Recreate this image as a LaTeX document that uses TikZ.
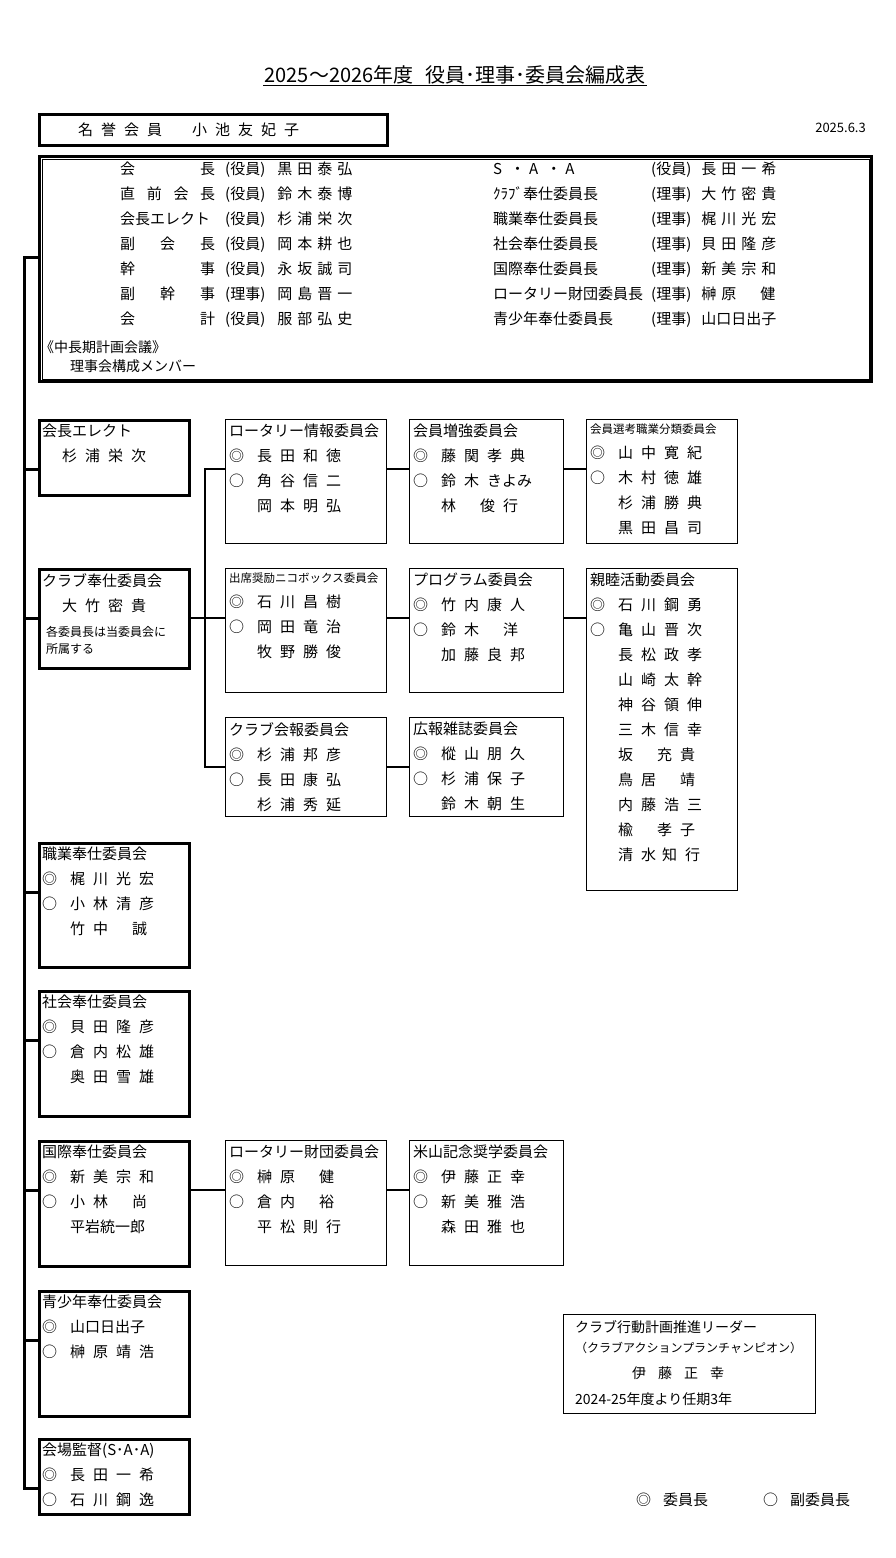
\documentclass[tikz,border=0pt]{standalone}
\usepackage{fontspec}
\setmainfont{Noto Sans CJK JP}
\usetikzlibrary{calc}
\newcommand\mk[2]{\makebox[28pt][l]{#1}#2}
\newcommand\widesp{\spaceskip 8pt plus 1pt\relax}
\newcommand\narrowsp{\spaceskip 5pt plus 1pt\relax}
\newcommand\cbox[7]{%
  \node[#2, minimum width=#5, minimum height=#6, anchor=north west] (#1) at (#3,#4) {};
  \node[txt, anchor=north west] at ([shift={(4pt,-5pt)}]#1.north west) {#7};}
\tikzset{
  txt/.style={inner sep=0pt, align=left, font={\fontsize{15}{25}\selectfont\widesp}},
  comm/.style={draw, line width=1.3pt, inner sep=0pt},
  chief/.style={draw, line width=3pt, inner sep=0pt},
  link/.style={line width=1.3pt},
  spine/.style={line width=3pt}
}
\begin{document}
\begin{tikzpicture}[x=1pt, y=-1pt]
  \useasboundingbox (0,0) rectangle (895,1558);
  % title and date
  \node[inner sep=1pt, font=\fontsize{20}{23}\selectfont] (title) at (455,75)
    {2025～2026年度\hspace{12pt}役員･理事･委員会編成表};
  \draw[line width=1pt] (title.south west) -- (title.south east);
  \node[anchor=east, inner sep=0pt, font=\fontsize{13}{15}\selectfont] (date) at (866,128) {2025.6.3};
  \node[chief, minimum width=348, minimum height=31, anchor=north west] (honor) at (38,113) {};
  \node[txt, anchor=west] (honortxt) at ([xshift=40pt]honor.west) {名 誉 会 員\hspace{30pt}小 池 友 妃 子};
  % board members
  \node[chief, minimum width=832, minimum height=225, anchor=north west] (board) at (38,155) {};
  \draw[line width=1pt] ([shift={(4pt,-4pt)}]board.north west) rectangle ([shift={(-4pt,4pt)}]board.south east);
  \node[txt, anchor=north west, font={\fontsize{15}{25}\selectfont\narrowsp}] (boardL) at (120,162) {%
    \makebox[95pt][s]{会\hfill 長}\hspace{10pt}(役員)\hspace{12pt}黒 田 泰 弘\\
    \makebox[95pt][s]{直\hfill 前\hfill 会\hfill 長}\hspace{10pt}(役員)\hspace{12pt}鈴 木 泰 博\\
    \makebox[95pt][s]{会長エレクト}\hspace{10pt}(役員)\hspace{12pt}杉 浦 栄 次\\
    \makebox[95pt][s]{副\hfill 会\hfill 長}\hspace{10pt}(役員)\hspace{12pt}岡 本 耕 也\\
    \makebox[95pt][s]{幹\hfill 事}\hspace{10pt}(役員)\hspace{12pt}永 坂 誠 司\\
    \makebox[95pt][s]{副\hfill 幹\hfill 事}\hspace{10pt}(理事)\hspace{12pt}岡 島 晋 一\\
    \makebox[95pt][s]{会\hfill 計}\hspace{10pt}(役員)\hspace{12pt}服 部 弘 史};
  \node[txt, anchor=north west, font={\fontsize{15}{25}\selectfont\narrowsp}] (boardR) at (493,162) {%
    \makebox[158pt][l]{S\hspace{8pt}・\hspace{4pt}A\hspace{8pt}・\hspace{4pt}A}(役員)\hspace{10pt}長 田 一 希\\
    \makebox[158pt][l]{ｸﾗﾌﾞ奉仕委員長}(理事)\hspace{10pt}大 竹 密 貴\\
    \makebox[158pt][l]{職業奉仕委員長}(理事)\hspace{10pt}梶 川 光 宏\\
    \makebox[158pt][l]{社会奉仕委員長}(理事)\hspace{10pt}貝 田 隆 彦\\
    \makebox[158pt][l]{国際奉仕委員長}(理事)\hspace{10pt}新 美 宗 和\\
    \makebox[158pt][l]{ロータリー財団委員長}(理事)\hspace{10pt}榊 原\hspace{24pt}健\\
    \makebox[158pt][l]{青少年奉仕委員長}(理事)\hspace{10pt}山口日出子};
  \node[txt, anchor=north west, font=\fontsize{14}{19}\selectfont] (plan) at (40,340)
    {《中長期計画会議》\\\hspace{30pt}理事会構成メンバー};
  % left column
  \cbox{elect}{chief}{38}{419}{150}{75}{会長エレクト\\\hspace{20pt}杉 浦 栄 次}
  \cbox{club}{chief}{38}{568}{150}{99}{クラブ奉仕委員会\\\hspace{20pt}大 竹 密 貴}
  \node[txt, anchor=north west, font=\fontsize{12}{17}\selectfont] (clubnote) at (46,626)
    {各委員長は当委員会に\\所属する};
  \cbox{shokugyo}{chief}{38}{842}{150}{124}{職業奉仕委員会\\\mk{◎}{梶 川 光 宏}\\\mk{○}{小 林 清 彦}\\\mk{}{竹 中\hspace{24pt}誠}}
  \cbox{shakai}{chief}{38}{990}{150}{125}{社会奉仕委員会\\\mk{◎}{貝 田 隆 彦}\\\mk{○}{倉 内 松 雄}\\\mk{}{奥 田 雪 雄}}
  \cbox{kokusai}{chief}{38}{1140}{150}{125}{国際奉仕委員会\\\mk{◎}{新 美 宗 和}\\\mk{○}{小 林\hspace{24pt}尚}\\\mk{}{平岩統一郎}}
  \cbox{seishonen}{chief}{38}{1290}{150}{125}{青少年奉仕委員会\\\mk{◎}{山口日出子}\\\mk{○}{榊 原 靖 浩}}
  \cbox{kaijo}{chief}{38}{1438}{150}{75}{会場監督(S･A･A)\\\mk{◎}{長 田 一 希}\\\mk{○}{石 川 鋼 逸}}
  % committees
  \cbox{info}{comm}{225}{419}{161}{124}{ロータリー情報委員会\\\mk{◎}{長 田 和 徳}\\\mk{○}{角 谷 信 二}\\\mk{}{岡 本 明 弘}}
  \cbox{attend}{comm}{225}{568}{161}{124}{{\fontsize{11.5}{25}\selectfont 出席奨励ニコボックス委員会}\\\mk{◎}{石 川 昌 樹}\\\mk{○}{岡 田 竜 治}\\\mk{}{牧 野 勝 俊}}
  \cbox{bulletin}{comm}{225}{717}{161}{99}{クラブ会報委員会\\\mk{◎}{杉 浦 邦 彦}\\\mk{○}{長 田 康 弘}\\\mk{}{杉 浦 秀 延}}
  \cbox{found}{comm}{225}{1140}{161}{125}{ロータリー財団委員会\\\mk{◎}{榊 原\hspace{24pt}健}\\\mk{○}{倉 内\hspace{24pt}裕}\\\mk{}{平 松 則 行}}
  \cbox{growth}{comm}{409}{419}{154}{124}{会員増強委員会\\\mk{◎}{藤 関 孝 典}\\\mk{○}{鈴 木 きよみ}\\\mk{}{林\hspace{24pt}俊 行}}
  \cbox{program}{comm}{409}{568}{154}{124}{プログラム委員会\\\mk{◎}{竹 内 康 人}\\\mk{○}{鈴 木\hspace{24pt}洋}\\\mk{}{加 藤 良 邦}}
  \cbox{pr}{comm}{409}{717}{154}{99}{広報雑誌委員会\\\mk{◎}{樅 山 朋 久}\\\mk{○}{杉 浦 保 子}\\\mk{}{鈴 木 朝 生}}
  \cbox{yoneyama}{comm}{409}{1140}{154}{125}{米山記念奨学委員会\\\mk{◎}{伊 藤 正 幸}\\\mk{○}{新 美 雅 浩}\\\mk{}{森 田 雅 也}}
  \cbox{select}{comm}{586}{419}{151}{124}{{\fontsize{11.5}{25}\selectfont 会員選考職業分類委員会}\\\mk{◎}{山 中 寛 紀}\\\mk{○}{木 村 徳 雄}\\\mk{}{杉 浦 勝 典}\\\mk{}{黒 田 昌 司}}
  \cbox{fellow}{comm}{586}{568}{151}{322}{親睦活動委員会\\\mk{◎}{石 川 鋼 勇}\\\mk{○}{亀 山 晋 次}\\\mk{}{長 松 政 孝}\\\mk{}{山 崎 太 幹}\\\mk{}{神 谷 領 伸}\\\mk{}{三 木 信 幸}\\\mk{}{坂\hspace{24pt}充 貴}\\\mk{}{鳥 居\hspace{24pt}靖}\\\mk{}{内 藤 浩 三}\\\mk{}{楡\hspace{24pt}孝 子}\\\mk{}{清 水\hspace{6pt}知 行}}
  % leader
  \node[comm, minimum width=252, minimum height=99, anchor=north west] (leader) at (563,1314) {};
  \node[txt, anchor=north west, font=\fontsize{14}{26}\selectfont] (leadtxt) at ([shift={(12pt,-6pt)}]leader.north west)
    {クラブ行動計画推進リーダー\\[-6pt]{\fontsize{12}{14}\selectfont （クラブアクションプランチャンピオン）}\\\hspace{57pt}伊\hspace{12pt}藤\hspace{12pt}正\hspace{12pt}幸\\2024-25年度より任期3年};
  % legend
  \node[txt, anchor=west] (chairkey) at (636,1500) {◎\hspace{12pt}委員長};
  \node[txt, anchor=west] (vicekey) at (763,1500) {○\hspace{12pt}副委員長};
  % connectors
  \coordinate (spinebot) at (24,1488);
  \draw[spine] ([yshift=-102pt]board.north west) -| (spinebot);
  \foreach \b in {elect,club,shokugyo,shakai,kokusai,seishonen,kaijo}
    \draw[spine] ([yshift=-50pt]\b.north west) -- +(-15.5,0);
  \draw[link] ([yshift=-50pt]club.north east) -- ([yshift=-50pt]attend.north west);
  \draw[link] ([yshift=-50pt]info.north west) -- ++(-20,0) |- ([yshift=-50pt]bulletin.north west);
  \foreach \a/\b in {info/growth, growth/select, attend/program, program/fellow, bulletin/pr, kokusai/found, found/yoneyama}
    \draw[link] ([yshift=-50pt]\a.north east) -- ([yshift=-50pt]\b.north west);
\end{tikzpicture}
\end{document}
